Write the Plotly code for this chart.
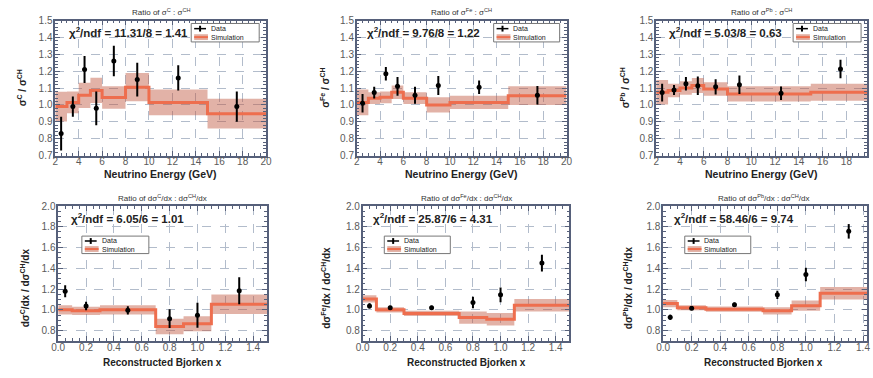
import plotly.graph_objects as go

W, H = 873, 378

# ---------------- data ----------------
e_edges = [2, 3, 4, 5, 6, 8, 10, 15, 20]
e_pts = [2.5, 3.5, 4.5, 5.5, 7, 9, 12.5, 17.5]
x_edges = [0, 0.1, 0.3, 0.7, 0.9, 1.1, 1.5]
x_pts = [0.05, 0.2, 0.5, 0.8, 1.0, 1.3]

c_data = [0.83, 0.99, 1.21, 0.98, 1.26, 1.15, 1.16, 0.99]
c_err = [0.10, 0.06, 0.08, 0.10, 0.09, 0.10, 0.075, 0.09]
c_sim = [0.99, 1.015, 1.057, 1.086, 1.044, 1.105, 1.015, 0.948]
c_sim_err = [0.088, 0.065, 0.075, 0.075, 0.067, 0.084, 0.077, 0.088]

fe_data = [1.01, 1.073, 1.184, 1.11, 1.057, 1.115, 1.105, 1.057]
fe_err = [0.055, 0.035, 0.04, 0.055, 0.05, 0.057, 0.04, 0.055]
fe_sim = [1.015, 1.04, 1.045, 1.075, 1.04, 1.0, 1.015, 1.055]
fe_sim_err = [0.077, 0.035, 0.035, 0.04, 0.035, 0.045, 0.04, 0.055]

pb_data = [1.073, 1.088, 1.126, 1.113, 1.107, 1.12, 1.069, 1.213]
pb_err = [0.053, 0.03, 0.04, 0.055, 0.045, 0.055, 0.04, 0.055]
pb_sim = [1.075, 1.085, 1.10, 1.115, 1.095, 1.065, 1.065, 1.075]
pb_sim_err = [0.072, 0.04, 0.04, 0.045, 0.04, 0.045, 0.045, 0.05]

cx_data = [1.178, 1.037, 0.995, 0.915, 0.947, 1.183]
cx_err = [0.058, 0.04, 0.04, 0.09, 0.12, 0.13]
cx_sim = [1.0, 0.99, 1.0, 0.84, 0.866, 1.053]
cx_sim_err = [0.045, 0.04, 0.045, 0.075, 0.073, 0.094]

fex_data = [1.038, 1.02, 1.02, 1.07, 1.144, 1.45]
fex_err = [0.025, 0.02, 0.02, 0.055, 0.07, 0.08]
fex_sim = [1.105, 1.0, 0.965, 0.925, 0.91, 1.045]
fex_sim_err = [0.035, 0.025, 0.025, 0.058, 0.06, 0.06]

pbx_data = [0.928, 1.016, 1.05, 1.144, 1.34, 1.756]
pbx_err = [0.025, 0.02, 0.02, 0.04, 0.065, 0.07]
pbx_sim = [1.06, 1.02, 1.006, 0.99, 1.04, 1.16]
pbx_sim_err = [0.035, 0.025, 0.025, 0.035, 0.05, 0.06]

chi2_texts = ["11.31/8 = 1.41", "9.76/8 = 1.22", "5.03/8 = 0.63",
              "6.05/6 = 1.01", "25.87/6 = 4.31", "58.46/6 = 9.74"]
targets = ["C", "Fe", "Pb"]

# ---------------- style ----------------
BAND = "rgba(190,85,60,0.45)"
LINE = "#EE6E4E"
FRAME = "#56607A"
GRID = "#B2BCCB"
FONT = "Liberation Sans"

fig = go.Figure()

panels = [
    (e_edges, e_pts, c_data, c_err, c_sim, c_sim_err),
    (e_edges, e_pts, fe_data, fe_err, fe_sim, fe_sim_err),
    (e_edges, e_pts, pb_data, pb_err, pb_sim, pb_sim_err),
    (x_edges, x_pts, cx_data, cx_err, cx_sim, cx_sim_err),
    (x_edges, x_pts, fex_data, fex_err, fex_sim, fex_sim_err),
    (x_edges, x_pts, pbx_data, pbx_err, pbx_sim, pbx_sim_err),
]

for i, (edges, pts, d, de, s, se) in enumerate(panels):
    k = "" if i == 0 else str(i + 1)
    xa, ya = "x" + k, "y" + k
    up = [a + b for a, b in zip(s, se)]
    lo = [a - b for a, b in zip(s, se)]
    fig.add_trace(go.Scatter(x=edges, y=lo + [lo[-1]], mode="lines", line=dict(width=0, shape="hv"),
                             xaxis=xa, yaxis=ya, showlegend=False, hoverinfo="skip"))
    fig.add_trace(go.Scatter(x=edges, y=up + [up[-1]], mode="lines", line=dict(width=0, shape="hv"),
                             fill="tonexty", fillcolor=BAND,
                             xaxis=xa, yaxis=ya, showlegend=False, hoverinfo="skip"))
    fig.add_trace(go.Scatter(x=edges, y=s + [s[-1]], mode="lines", line=dict(width=3, shape="hv", color=LINE),
                             xaxis=xa, yaxis=ya, showlegend=False))
    fig.add_trace(go.Scatter(x=pts, y=d, mode="markers",
                             marker=dict(color="black", size=5),
                             error_y=dict(type="data", array=de, color="black", thickness=2, width=0),
                             xaxis=xa, yaxis=ya, showlegend=False))

# ---------------- layout ----------------
def px2x(p):
    return p / W

def py2y(p):
    return 1 - p / H

top_y = [py2y(154), py2y(15)]
bot_y = [py2y(345), py2y(206)]
top_x = [[px2x(49), px2x(263)], [px2x(355), px2x(568)], [px2x(659), 1.0]]
bot_x = [[px2x(52), px2x(264)], [px2x(361), px2x(571)], [px2x(666), 1.0]]

tickfont = dict(family=FONT, size=10, color="#5A5A5A")
common = dict(showline=True, mirror="allticks", linecolor=FRAME, linewidth=1.5,
              ticks="inside", ticklen=5, tickcolor=FRAME, tickwidth=1,
              showgrid=True, gridcolor=GRID, griddash="dash", gridwidth=1,
              zeroline=False, tickfont=tickfont,
              minor=dict(ticks="inside", ticklen=3, tickcolor=FRAME, showgrid=False))

layout = dict(width=W, height=H, margin=dict(l=0, r=0, t=0, b=0),
              paper_bgcolor="white", plot_bgcolor="white", showlegend=False)

for i in range(6):
    k = "" if i == 0 else str(i + 1)
    if i < 3:
        xr = [2, 20] if i < 2 else [2, 19.73]
        xax = dict(common, domain=top_x[i], range=xr, dtick=2, tick0=2,
                   minor=dict(common["minor"], dtick=0.5), anchor="y" + k,
                   ticklabelstandoff=-4)
        yax = dict(common, domain=top_y, range=[0.7, 1.5], dtick=0.1, tick0=0.7,
                   tickformat=".1f", minor=dict(common["minor"], dtick=0.02), anchor="x" + k,
                   ticklabelstandoff=-1)
    else:
        xr = [0, 1.5] if i < 5 else [0, 1.428]
        xax = dict(common, domain=bot_x[i - 3], range=xr, dtick=0.2, tick0=0,
                   tickformat=".1f", minor=dict(common["minor"], dtick=0.05), anchor="y" + k,
                   ticklabelstandoff=-4)
        yax = dict(common, domain=bot_y, range=[0.7, 2.0], dtick=0.2, tick0=0.8,
                   tickformat=".1f", minor=dict(common["minor"], dtick=0.05), anchor="x" + k,
                   ticklabelstandoff=-1)
    layout["xaxis" + k] = xax
    layout["yaxis" + k] = yax

fig.update_layout(**layout)

ann = []
shapes = []

def add_text(x, y, text, size, bold=False, xanchor="center", angle=0, color="#222"):
    t = "<b>" + text + "</b>" if bold else text
    ann.append(dict(x=x, y=y, xref="paper", yref="paper", text=t, showarrow=False,
                    xanchor=xanchor, yanchor="middle", textangle=angle, borderpad=0,
                    font=dict(family=FONT, size=size, color=color)))

# panel titles, axis titles
top_cx = [156, 461, 766]
bot_cx = [158, 466, 768]
ytitle_top = [15, 322, 627]
ytitle_bot = [18, 323, 630]
for j, t in enumerate(targets):
    add_text(px2x(top_cx[j]), py2y(6), "Ratio of σ<sup>%s</sup> : σ<sup>CH</sup>" % t, 8, color="#333")
    add_text(px2x(top_cx[j]), py2y(173), "Neutrino Energy (GeV)", 10.5, bold=True)
    add_text(px2x(ytitle_top[j]), py2y(84), "σ<sup>%s</sup> / σ<sup>CH</sup>" % t, 10, bold=True, angle=-90)
    add_text(px2x(bot_cx[j]), py2y(198),
             "Ratio of dσ<sup>%s</sup>/dx : dσ<sup>CH</sup>/dx" % t, 8, color="#333")
    add_text(px2x(bot_cx[j]), py2y(367), "Reconstructed Bjorken x", 10, bold=True)
    add_text(px2x(ytitle_bot[j]), py2y(290),
             "dσ<sup>%s</sup>/dx / dσ<sup>CH</sup>/dx" % t, 10, bold=True, angle=-90)

# chi2 labels
chi_pos = [(62, 27), (364, 27), (671, 27), (64, 218), (371, 218), (676, 218)]
for (cx, cy), t in zip(chi_pos, chi2_texts):
    add_text(px2x(cx), py2y(cy), "χ<sup>2</sup>/ndf = " + t, 11.5, bold=True, xanchor="left")

# legend boxes (x0, y0, x1, y1) in pixels
leg_boxes = [(187, 18, 256, 37), (494, 18, 561, 37), (798, 18, 867, 37),
             (76, 237, 144, 255), (383, 237, 450, 255), (688, 237, 755, 255)]
for (x0, y0, x1, y1) in leg_boxes:
    shapes.append(dict(type="rect", xref="paper", yref="paper",
                       x0=px2x(x0), x1=px2x(x1), y0=py2y(y0), y1=py2y(y1),
                       line=dict(color="#777", width=1), fillcolor="white", layer="above"))
    ym1 = y0 + (y1 - y0) * 0.28
    ym2 = y0 + (y1 - y0) * 0.74
    # data symbol
    shapes.append(dict(type="line", xref="paper", yref="paper",
                       x0=px2x(x0 + 3), x1=px2x(x0 + 15), y0=py2y(ym1), y1=py2y(ym1),
                       line=dict(color="black", width=1.5), layer="above"))
    shapes.append(dict(type="line", xref="paper", yref="paper",
                       x0=px2x(x0 + 9), x1=px2x(x0 + 9), y0=py2y(ym1 - 3), y1=py2y(ym1 + 3),
                       line=dict(color="black", width=2), layer="above"))
    # simulation symbol
    shapes.append(dict(type="rect", xref="paper", yref="paper",
                       x0=px2x(x0 + 3), x1=px2x(x0 + 17), y0=py2y(ym2 - 3), y1=py2y(ym2 + 3),
                       line=dict(width=0), fillcolor="rgba(200,110,85,0.55)", layer="above"))
    shapes.append(dict(type="line", xref="paper", yref="paper",
                       x0=px2x(x0 + 3), x1=px2x(x0 + 17), y0=py2y(ym2), y1=py2y(ym2),
                       line=dict(color=LINE, width=2), layer="above"))
    add_text(px2x(x0 + 19), py2y(ym1), "Data", 7, xanchor="left", color="#222")
    add_text(px2x(x0 + 19), py2y(ym2), "Simulation", 7, xanchor="left", color="#222")

fig.update_layout(annotations=ann, shapes=shapes)
fig.write_html("out.html", config={"displayModeBar": False},
               post_script="document.body.style.margin='0';document.body.style.overflow='hidden';")
